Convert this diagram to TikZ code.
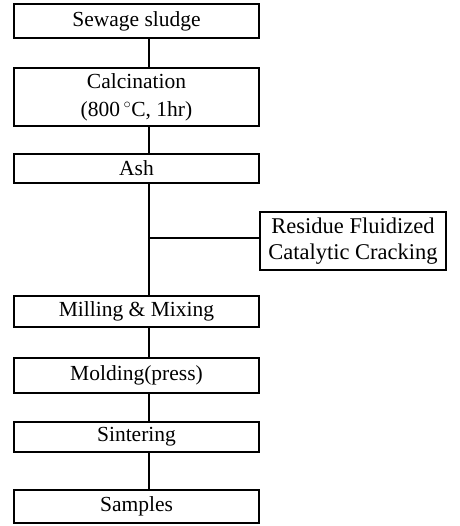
\documentclass[tikz,border=0pt]{standalone}
\usepackage{fontspec}
\setmainfont{Liberation Serif}
\begin{document}
\begin{tikzpicture}[x=1pt,y=-1pt,
  box/.style={draw,line width=1.4pt,minimum width=245pt,inner sep=0pt,align=center,font=\fontsize{21.5}{28}\selectfont},
  link/.style={line width=1.4pt}]
\useasboundingbox (0,0) rectangle (459,526);
\node[box,minimum height=34pt] (sew) at (136.5,21) {Sewage sludge};
\node[box,minimum height=58pt] (calc) at (136.5,97) {Calcination\\(800\,$^\circ$C, 1hr)};
\node[box,minimum height=29pt] (ash) at (136.5,168.5) {Ash};
\node[box,minimum width=186pt,minimum height=58pt,font=\fontsize{22.5}{26}\selectfont] (rfcc) at (353,241) {Residue Fluidized\\Catalytic Cracking};
\node[box,minimum height=31pt] (mill) at (136.5,311.5) {Milling \& Mixing};
\node[box,minimum height=35pt] (mold) at (136.5,375.5) {Molding(press)};
\node[box,minimum height=30pt] (sint) at (136.5,437) {Sintering};
\node[box,minimum height=33pt] (samp) at (136.5,506.5) {Samples};
\coordinate (sp) at (149,0);
\coordinate (j) at (149,238);
\draw[link] (sew.south -| sp) -- (calc.north -| sp);
\draw[link] (calc.south -| sp) -- (ash.north -| sp);
\draw[link] (ash.south -| sp) -- (mill.north -| sp);
\draw[link] (j) -- (j -| rfcc.west);
\draw[link] (mill.south -| sp) -- (mold.north -| sp);
\draw[link] (mold.south -| sp) -- (sint.north -| sp);
\draw[link] (sint.south -| sp) -- (samp.north -| sp);
\end{tikzpicture}
\end{document}
